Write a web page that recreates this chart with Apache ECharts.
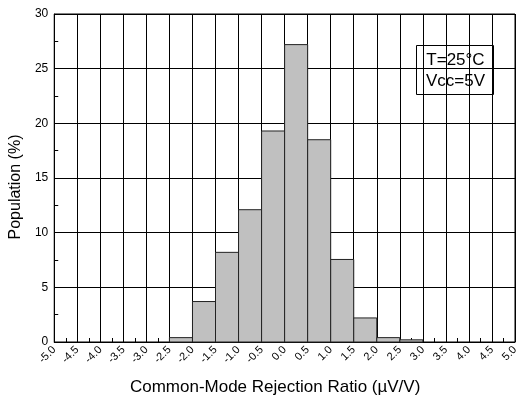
<!DOCTYPE html>
<html>
<head>
<meta charset="utf-8">
<script src="https://cdn.jsdelivr.net/npm/echarts@6/dist/echarts.min.js"></script>
<style>
  html, body { margin: 0; padding: 0; background: #fff; }
  #vis { width: 531px; height: 403px; }
</style>
</head>
<body>
<div id="vis"></div>
<script>
// histogram bins (left edge, µV/V) and population in %
const binStart = [-2.5, -2.0, -1.5, -1.0, -0.5, 0.0, 0.5, 1.0, 1.5, 2.0, 2.5];
const population = [0.4, 3.7, 8.2, 12.1, 19.3, 27.2, 18.5, 7.55, 2.2, 0.4, 0.2];
const binWidth = 0.5;
const noteLines = ['T=25°C', 'Vcc=5V'];

const FONT = '"Liberation Sans", Arial, sans-serif';

const chart = echarts.init(document.getElementById('vis'), null, {renderer: 'canvas'});

const data = binStart.map((x, i) => [x, x + binWidth, population[i]]);

function renderBar(params, api) {
  const p0 = api.coord([api.value(0), 0]);
  const p1 = api.coord([api.value(1), api.value(2)]);
  return {
    type: 'rect',
    shape: {x: p0[0], y: p1[1], width: p1[0] - p0[0], height: p0[1] - p1[1]},
    style: {fill: '#c0c0c0', stroke: '#222', lineWidth: 1}
  };
}

const options = {
  animation: false,
  grid: {
    left: 52, right: 16, top: 14, bottom: 61,
    show: true, borderColor: '#000', borderWidth: 1, backgroundColor: 'transparent'
  },
  xAxis: {
    type: 'value',
    min: -5, max: 5, interval: 0.5,
    name: 'Common-Mode Rejection Ratio (µV/V)',
    nameLocation: 'middle',
    nameGap: 37,
    nameTextStyle: {fontFamily: FONT, fontSize: 17, color: '#000', padding: [0, 19, 0, 0]},
    axisLine: {onZero: false, lineStyle: {color: '#000', width: 1}},
    axisTick: {inside: true, length: 4, lineStyle: {color: '#000'}},
    minorTick: {show: true, splitNumber: 2, length: 4, lineStyle: {color: '#000'}},
    splitLine: {show: true, lineStyle: {color: '#000', width: 1}},
    axisLabel: {
      rotate: 45, fontFamily: FONT, fontSize: 11, color: '#000', margin: 6,
      formatter: v => v.toFixed(1)
    }
  },
  yAxis: {
    type: 'value',
    min: 0, max: 30, interval: 5,
    name: 'Population (%)',
    nameLocation: 'middle',
    nameGap: 23,
    nameTextStyle: {fontFamily: FONT, fontSize: 16, color: '#000', padding: [0, 18, 0, 0]},
    axisLine: {show: true, onZero: false, lineStyle: {color: '#000', width: 1}},
    axisTick: {inside: true, length: 4, lineStyle: {color: '#000'}},
    minorTick: {show: true, splitNumber: 2, length: 4, lineStyle: {color: '#000'}},
    splitLine: {show: true, lineStyle: {color: '#000', width: 1}},
    axisLabel: {fontFamily: FONT, fontSize: 12, color: '#000', margin: 6}
  },
  series: [{
    type: 'custom',
    renderItem: renderBar,
    data: data,
    encode: {x: [0, 1], y: 2},
    z: 3
  }],
  graphic: [{
    type: 'group',
    left: 416, top: 45,
    children: [{
      type: 'rect',
      shape: {x: 0, y: 0, width: 77, height: 49},
      style: {fill: '#fff', stroke: '#000', lineWidth: 1}
    }, {
      type: 'text',
      x: 39, y: 4,
      style: {
        text: noteLines.join('\n'),
        align: 'center',
        font: '17px ' + FONT,
        lineHeight: 21,
        fill: '#000'
      }
    }]
  }]
};

chart.setOption(options);
</script>
</body>
</html>
